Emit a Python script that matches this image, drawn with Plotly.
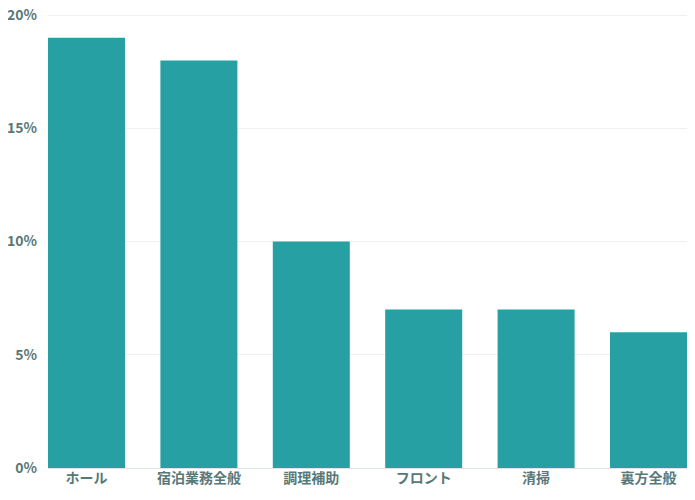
import plotly.graph_objects as go

categories = ["ホール", "宿泊業務全般", "調理補助", "フロント", "清掃", "裏方全般"]
shares = [0.19, 0.18, 0.10, 0.07, 0.07, 0.06]
y_ticks = [0, 0.05, 0.10, 0.15, 0.20]
y_tick_labels = ["0%", "5%", "10%", "15%", "20%"]

TEAL = "#26a0a2"
TEXT = "#587878"
GAP = 0.315

# the page body keeps its default 8px margin, so the figure is sized to fit inside it
fig = go.Figure(go.Bar(x=categories, y=shares, marker_color=TEAL, marker_line_width=0))
fig.update_layout(
    width=679,
    height=484,
    margin=dict(l=40, r=0, t=6, b=24),
    paper_bgcolor="white",
    plot_bgcolor="white",
    bargap=GAP,
    showlegend=False,
    font=dict(family="Noto Sans CJK JP, Noto Sans, sans-serif", size=14, color=TEXT),
)
fig.update_yaxes(
    range=[0, 0.2005],
    tickvals=y_ticks,
    ticktext=[f"<b>{t}</b>" for t in y_tick_labels],
    gridcolor="#f0f0f0",
    zeroline=True,
    zerolinecolor="#dde6e6",
    zerolinewidth=1,
    ticks="",
    ticklabelstandoff=10,
    ticklabeloverflow="allow",
    automargin=False,
)
fig.update_xaxes(
    range=[-0.5 + GAP / 2, len(categories) - 0.5 - GAP / 2],
    tickvals=categories,
    ticktext=[f"<b>{c}</b>" for c in categories],
    showgrid=False,
    ticks="",
    automargin=False,
)
fig.write_html("out.html")
